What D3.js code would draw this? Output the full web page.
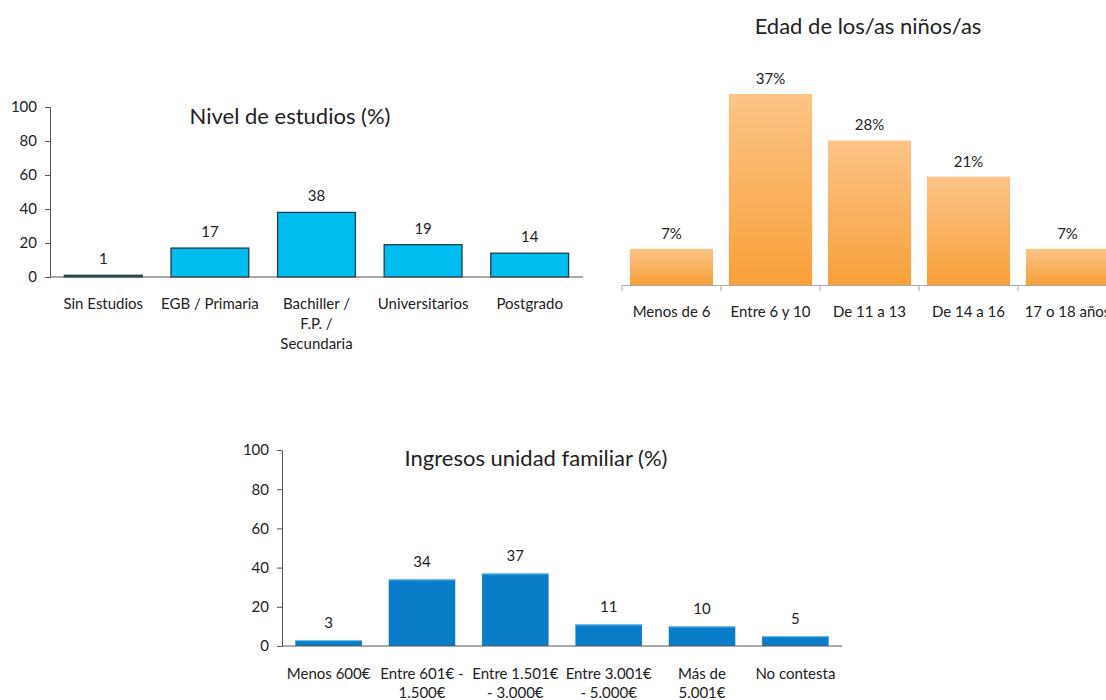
<!DOCTYPE html>
<html><head><meta charset="utf-8">
<script src="https://cdn.jsdelivr.net/npm/d3@7"></script>
<style>
html,body{margin:0;padding:0;background:#fff;overflow:hidden}
svg{display:block;font-family:Lato,"Open Sans",sans-serif}
</style></head><body>
<svg id="c" width="1106" height="700"></svg>
<script>
// Chart 1: Nivel de estudios (%)
const estudiosCats = [["Sin Estudios"],["EGB / Primaria"],["Bachiller /","F.P. /","Secundaria"],["Universitarios"],["Postgrado"]];
const estudiosVals = [1,17,38,19,14];
const estudiosTicks = [0,20,40,60,80,100];
// Chart 2: Edad de los/as niños/as
const edadCats = ["Menos de 6","Entre 6 y 10","De 11 a 13","De 14 a 16","17 o 18 años"];
const edadVals = [7,37,28,21,7];
// Chart 3: Ingresos unidad familiar (%)
const ingresosCats = [["Menos 600€"],["Entre 601€ -","1.500€"],["Entre 1.501€","- 3.000€"],["Entre 3.001€","- 5.000€"],["Más de","5.001€"],["No contesta"]];
const ingresosVals = [3,34,37,11,10,5];
const ingresosTicks = [0,20,40,60,80,100];

const svg = d3.select("#c");
const txt = "#222";

const defs = svg.append("defs");
const g = defs.append("linearGradient").attr("id","og").attr("x1",0).attr("y1",0).attr("x2",0).attr("y2",1);
g.append("stop").attr("offset","0%").attr("stop-color","#fcc487");
g.append("stop").attr("offset","100%").attr("stop-color","#f8a03a");

function yAxis(sel, y, x0, ticks){
  const ax = d3.axisLeft(y).tickValues(ticks).tickSize(5).tickSizeOuter(0).tickPadding(8);
  const a = sel.append("g").attr("transform",`translate(${x0},0)`).call(ax);
  a.select(".domain").attr("stroke","#555");
  a.selectAll(".tick line").attr("stroke","#555");
  a.selectAll(".tick text").attr("font-size",15).attr("fill",txt).attr("font-family","Lato,sans-serif");
}
function catLabels(sel, x, cats, yStart, lh, fs){
  const gg = sel.append("g");
  cats.forEach((lines,i)=>{
    const t = gg.append("text").attr("x",x(i)+x.bandwidth()/2).attr("y",yStart)
      .attr("text-anchor","middle").attr("font-size",fs).attr("fill",txt);
    lines.forEach((l,j)=>t.append("tspan").attr("x",x(i)+x.bandwidth()/2).attr("dy",j===0?0:lh).text(l));
  });
}

// ---------- Chart 1 ----------
{
  const x = d3.scaleBand().domain(d3.range(estudiosVals.length)).range([50,583]).paddingInner(0.27).paddingOuter(0.135);
  const y = d3.scaleLinear().domain([0,100]).range([277,107]);
  const c = svg.append("g");
  c.selectAll("rect").data(estudiosVals).join("rect")
    .attr("x",(d,i)=>x(i)).attr("width",x.bandwidth())
    .attr("y",d=>y(d)).attr("height",d=>y(0)-y(d))
    .attr("fill",(d,i)=>i===0?"#155466":"#00bdef").attr("stroke","#1b3f4d").attr("stroke-width",1.3);
  c.append("line").attr("x1",50).attr("x2",583).attr("y1",y(0)).attr("y2",y(0)).attr("stroke","#555");
  yAxis(c, y, 50, estudiosTicks);
  c.selectAll(".val").data(estudiosVals).join("text").attr("class","val")
    .attr("x",(d,i)=>x(i)+x.bandwidth()/2).attr("y",d=>y(d)-11)
    .attr("text-anchor","middle").attr("font-size",15).attr("fill",txt).text(d=>d);
  catLabels(c, x, estudiosCats, 309, 20, 15);
  c.append("text").attr("x",290).attr("y",124).attr("text-anchor","middle").attr("font-size",22).attr("fill",txt).text("Nivel de estudios (%)");
}

// ---------- Chart 2 ----------
{
  const x = d3.scaleBand().domain(d3.range(edadVals.length)).range([622,1117]).paddingInner(0.16).paddingOuter(0.08);
  const y = d3.scaleLinear().domain([0,37]).range([285,94]);
  const c = svg.append("g");
  c.selectAll("rect").data(edadVals).join("rect")
    .attr("x",(d,i)=>x(i)).attr("width",x.bandwidth())
    .attr("y",d=>y(d)).attr("height",d=>y(0)-y(d))
    .attr("fill","url(#og)");
  c.append("line").attr("x1",622).attr("x2",1117).attr("y1",285.5).attr("y2",285.5).attr("stroke","#aaa");
  d3.range(edadVals.length).forEach(i=>{
    const xx = x(i) - x.step()*x.paddingOuter();
    c.append("line").attr("x1",xx).attr("x2",xx).attr("y1",285.5).attr("y2",291).attr("stroke","#aaa");
  });
  c.selectAll(".val").data(edadVals).join("text").attr("class","val")
    .attr("x",(d,i)=>x(i)+x.bandwidth()/2).attr("y",d=>y(d)-10)
    .attr("text-anchor","middle").attr("font-size",15).attr("fill",txt).text(d=>d+"%");
  catLabels(c, x, edadCats.map(d=>[d]), 317, 20, 15);
  c.append("text").attr("x",868).attr("y",34).attr("text-anchor","middle").attr("font-size",22).attr("fill",txt).text("Edad de los/as niños/as");
}

// ---------- Chart 3 ----------
{
  const x = d3.scaleBand().domain(d3.range(ingresosVals.length)).range([282,842]).paddingInner(0.287).paddingOuter(0.143);
  const y = d3.scaleLinear().domain([0,100]).range([646,450]);
  const c = svg.append("g");
  c.selectAll("rect").data(ingresosVals).join("rect")
    .attr("x",(d,i)=>x(i)).attr("width",x.bandwidth())
    .attr("y",d=>y(d)).attr("height",d=>y(0)-y(d))
    .attr("fill","#0a7dc8");
  c.selectAll(".hl").data(ingresosVals).join("line").attr("class","hl")
    .attr("x1",(d,i)=>x(i)).attr("x2",(d,i)=>x(i)+x.bandwidth())
    .attr("y1",d=>y(d)+0.5).attr("y2",d=>y(d)+0.5).attr("stroke","#6cc4f0").attr("stroke-width",1);
  c.append("line").attr("x1",282).attr("x2",842).attr("y1",y(0)).attr("y2",y(0)).attr("stroke","#555");
  yAxis(c, y, 282, ingresosTicks);
  c.selectAll(".val").data(ingresosVals).join("text").attr("class","val")
    .attr("x",(d,i)=>x(i)+x.bandwidth()/2).attr("y",d=>y(d)-12)
    .attr("text-anchor","middle").attr("font-size",15).attr("fill",txt).text(d=>d);
  catLabels(c, x, ingresosCats, 679, 19, 15);
  c.append("text").attr("x",536).attr("y",466).attr("text-anchor","middle").attr("font-size",22).attr("fill",txt).text("Ingresos unidad familiar (%)");
}
</script></body></html>
